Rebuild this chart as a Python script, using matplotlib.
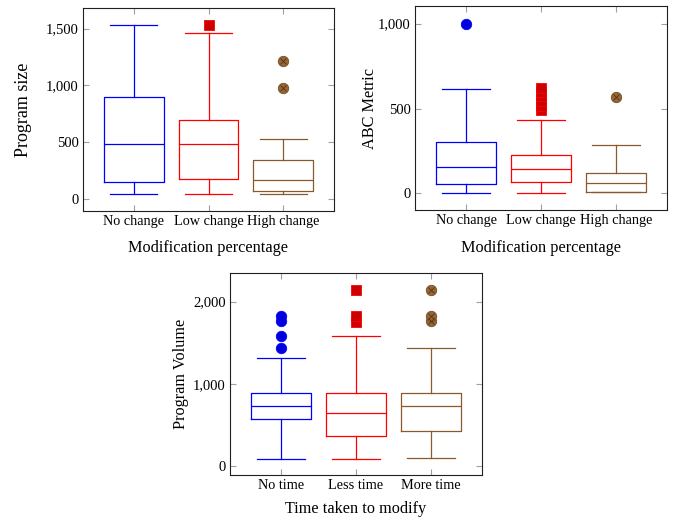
import numpy as np
import matplotlib.pyplot as plt
from matplotlib.ticker import FuncFormatter

plt.rcParams['font.family'] = ['Liberation Serif', 'DejaVu Serif']

# box stats: whislo, q1, med, q3, whishi
mod_labels = ['No change', 'Low change', 'High change']
time_labels = ['No time', 'Less time', 'More time']

size_stats = [[38, 147, 485, 897, 1529],
              [38, 176, 485, 697, 1465],
              [38, 68, 162, 341, 529]]
size_fliers = [[], [1529], [976, 1215]]

abc_stats = [[4, 55, 157, 303, 615],
             [4, 67, 141, 226, 430],
             [6, 10, 59, 122, 283]]
abc_fliers = [[996], [490, 515, 545, 575, 600, 620], [570]]

vol_stats = [[93, 570, 731, 893, 1321],
             [93, 364, 642, 893, 1584],
             [105, 432, 731, 893, 1442]]
vol_fliers = [[1440, 1580, 1765, 1829], [1754, 1830, 2145], [1762, 1826, 2145]]

line_cols = ['#0000ff', '#ff0000', '#8a5a2c']
fill_cols = ['#0000dd', '#cc0000', '#996633']
edge_cols = ['#0000ff', '#ff0000', '#734d26']
markers = ['o', 's', 'o']


def draw(ax, stats, fliers, labels, ylabel, xlabel, ylim, yticks, ylab_x,
         xlab_y=-0.145, ylabel_size=11.7):
    for i, (s, f) in enumerate(zip(stats, fliers)):
        st = dict(whislo=s[0], q1=s[1], med=s[2], q3=s[3], whishi=s[4], fliers=f)
        c = line_cols[i]
        ax.bxp([st], positions=[i + 1], widths=0.8, capwidths=[0.63],
               boxprops=dict(color=c, lw=0.9),
               whiskerprops=dict(color=c, lw=0.9),
               capprops=dict(color=c, lw=0.9),
               medianprops=dict(color=c, lw=0.9),
               flierprops=dict(marker=markers[i], markerfacecolor=fill_cols[i],
                               markeredgecolor=edge_cols[i], markersize=7.5,
                               markeredgewidth=0.6, linestyle='none'))
        if i == 2 and len(f):
            ax.plot(np.full(len(f), i + 1), f, 'x', ms=4.5, mew=0.6,
                    color='#4d3319', zorder=5)
    ax.set_xlim(0.32, 3.68)
    ax.set_ylim(*ylim)
    ax.set_xticks([1, 2, 3])
    ax.set_xticklabels(labels, fontsize=10.3)
    ax.set_yticks(yticks)
    ax.yaxis.set_major_formatter(FuncFormatter(lambda v, p: f"{int(v):,}"))
    for t in ax.get_yticklabels():
        t.set_fontsize(10.5)
    ax.tick_params(direction='in', length=4.5, width=0.8, color='#a0a0a0',
                   top=True, right=True, pad=3)
    ax.set_ylabel(ylabel, fontsize=ylabel_size)
    ax.yaxis.set_label_coords(ylab_x, 0.5)
    ax.set_xlabel(xlabel, fontsize=11.7)
    ax.xaxis.set_label_coords(0.5, xlab_y)
    for sp in ax.spines.values():
        sp.set_linewidth(0.8)
        sp.set_color('#202020')


fig = plt.figure(figsize=(6.89, 5.18), dpi=100)
W, H = 689, 518
ax1 = fig.add_axes([83 / W, 1 - 211 / H, 251 / W, 203 / H])
ax2 = fig.add_axes([415 / W, 1 - 210 / H, 252 / W, 204 / H])
ax3 = fig.add_axes([230 / W, 1 - 475 / H, 252 / W, 202 / H])

draw(ax1, size_stats, size_fliers, mod_labels, 'Program size',
     'Modification percentage', (-109, 1682), [0, 500, 1000, 1500], -0.203,
     ylabel_size=13)
draw(ax2, abc_stats, abc_fliers, mod_labels, 'ABC Metric',
     'Modification percentage', (-98, 1104), [0, 500, 1000], -0.147)
draw(ax3, vol_stats, vol_fliers, time_labels, 'Program Volume',
     'Time taken to modify', (-105, 2347), [0, 1000, 2000], -0.163,
     xlab_y=-0.128)

fig.savefig('out.png', dpi=100)
